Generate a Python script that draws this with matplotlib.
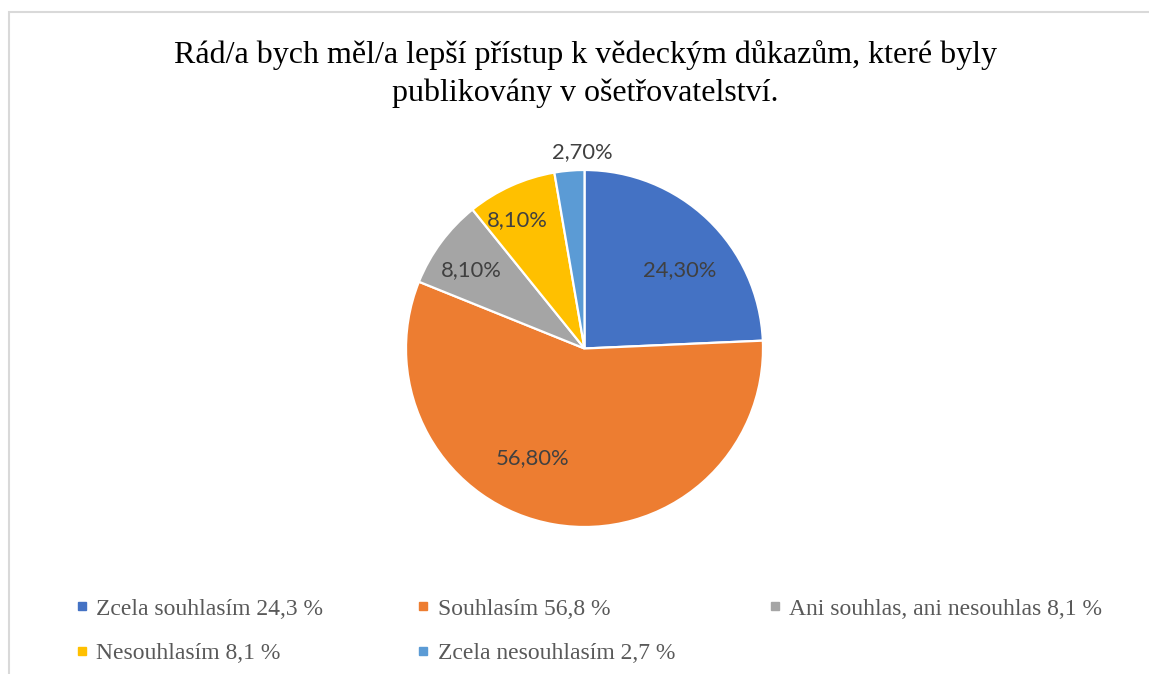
import matplotlib.pyplot as plt
from matplotlib.lines import Line2D
from matplotlib.patches import Rectangle
import numpy as np

# data
kategorie = ['Zcela souhlasím 24,3 %', 'Souhlasím 56,8 %', 'Ani souhlas, ani nesouhlas 8,1 %',
             'Nesouhlasím 8,1 %', 'Zcela nesouhlasím 2,7 %']
hodnoty = [24.3, 56.8, 8.1, 8.1, 2.7]
popisky = ['24,30%', '56,80%', '8,10%', '8,10%', '2,70%']
barvy = ['#4472C4', '#ED7D31', '#A5A5A5', '#FFC000', '#5B9BD5']

# label placement (fraction of radius, angle in degrees) - like Excel best fit
lab_r = [0.69, 0.68, 0.77, 0.81, 1.10]
lab_ang = [39.4, 244.8, 145.4, 117.7, 90.7]

W, H = 1149, 674
fig = plt.figure(figsize=(W / 100, H / 100), dpi=100)
fig.patch.set_facecolor('white')

# chart frame (only left and top visible)
fig.patches.append(Rectangle((9 / W, -0.1), 1.2, 1.1 - 12.5 / H, transform=fig.transFigure,
                             fill=False, edgecolor='#D9D9D9', linewidth=1.5))

# title
fig.text(585 / W, 1 - 63 / H, 'Rád/a bych měl/a lepší přístup k vědeckým důkazům, které byly',
         ha='center', va='baseline', fontsize=23, family='Liberation Serif', color='black')
fig.text(585 / W, 1 - 101 / H, 'publikovány v ošetřovatelství.',
         ha='center', va='baseline', fontsize=23, family='Liberation Serif', color='black')

# pie
cx, cy, R = 584.5, 348.5, 178.5
ax = fig.add_axes([(cx - R) / W, (H - cy - R) / H, 2 * R / W, 2 * R / H])
ax.pie(hodnoty, colors=barvy, startangle=90, counterclock=False,
       wedgeprops=dict(edgecolor='white', linewidth=1.6))
ax.set_xlim(-1, 1)
ax.set_ylim(-1, 1)
ax.set_aspect('equal')
ax.axis('off')

for txt, r, a in zip(popisky, lab_r, lab_ang):
    ax.text(r * np.cos(np.radians(a)), r * np.sin(np.radians(a)), txt,
            ha='center', va='center', fontsize=15.8, family='Lato', color='#404040',
            clip_on=False)

# legend (row-major order like Excel)
handles = [Line2D([], [], marker='s', linestyle='none', markersize=6,
                  markerfacecolor=c, markeredgecolor=c) for c in barvy]
order = [0, 3, 1, 4, 2]
leg = fig.legend([handles[i] for i in order], [kategorie[i] for i in order],
                 loc='upper left', bbox_to_anchor=(76 / W, 1 - 598 / H), ncol=3,
                 frameon=False, handlelength=0.5, handletextpad=0.35,
                 columnspacing=4.0, labelspacing=0.98, borderpad=0, borderaxespad=0,
                 prop={'family': 'Liberation Serif', 'size': 17})
for t in leg.get_texts():
    t.set_color('#595959')

fig.savefig('out.png', dpi=100)
